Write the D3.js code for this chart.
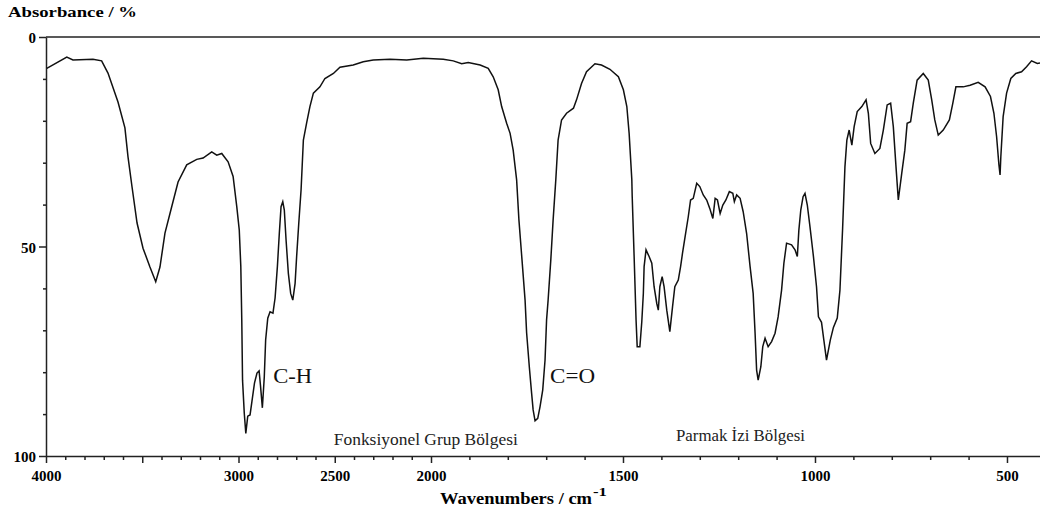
<!DOCTYPE html>
<html>
<head>
<meta charset="utf-8">
<script src="https://cdn.jsdelivr.net/npm/d3@7/dist/d3.min.js"></script>
<style>
  html, body { margin: 0; padding: 0; background: #fff; }
  svg { display: block; }
  text { font-family: "Liberation Serif", "DejaVu Serif", serif; }
</style>
</head>
<body>
<script>
// ---- Data (wavenumber in cm^-1, absorbance in %) ----
const wavenumbers = [3996, 3892, 3860, 3756, 3711, 3678, 3626, 3590, 3574, 3553, 3527, 3496, 3460, 3430, 3408, 3382, 3347, 3314, 3269, 3217, 3184, 3139, 3113, 3087, 3054, 3028, 3009, 2996, 2988, 2983, 2979, 2970, 2962, 2952, 2940, 2930, 2917, 2904, 2893, 2886, 2876, 2866, 2859, 2848, 2836, 2821, 2810, 2798, 2788, 2779, 2770, 2762, 2753, 2741, 2729, 2718, 2706, 2698, 2687, 2675, 2663, 2646, 2629, 2611, 2577, 2551, 2507, 2473, 2404, 2352, 2300, 2213, 2126, 2040, 1968, 1942, 1920, 1903, 1872, 1851, 1838, 1825, 1816, 1803, 1794, 1786, 1777, 1771, 1763, 1755, 1751, 1744, 1738, 1734, 1729, 1722, 1716, 1709, 1703, 1699, 1695, 1688, 1682, 1675, 1669, 1660, 1647, 1629, 1621, 1608, 1595, 1573, 1556, 1534, 1512, 1499, 1490, 1484, 1477, 1476, 1471, 1466, 1463, 1456, 1451, 1447, 1445, 1440, 1432, 1425, 1419, 1412, 1408, 1404, 1398, 1393, 1386, 1378, 1371, 1365, 1356, 1350, 1345, 1337, 1330, 1324, 1317, 1308, 1300, 1291, 1282, 1274, 1266, 1260, 1254, 1247, 1240, 1232, 1223, 1214, 1210, 1204, 1195, 1187, 1178, 1169, 1161, 1156, 1152, 1148, 1141, 1136, 1130, 1122, 1113, 1104, 1096, 1087, 1081, 1074, 1061, 1052, 1046, 1042, 1037, 1031, 1026, 1020, 1013, 1004, 996, 991, 983, 977, 970, 960, 952, 942, 935, 928, 922, 917, 911, 904, 898, 890, 878, 867, 861, 855, 844, 831, 822, 812, 803, 796, 789, 783, 774, 766, 760, 751, 744, 734, 718, 705, 696, 688, 679, 666, 650, 641, 633, 614, 596, 575, 557, 543, 534, 527, 521, 518, 516, 510, 501, 490, 477, 462, 449, 436, 421, 414];
const absorbance = [7.5, 4.8, 5.5, 5.3, 5.7, 8.6, 15.5, 21.7, 28.6, 35.8, 44.4, 50.4, 54.9, 58.4, 54.9, 46.8, 40.5, 34.6, 30.5, 29.2, 28.9, 27.4, 28.2, 27.8, 29.8, 33.3, 40.5, 46.1, 54.8, 67.5, 81.9, 89.8, 94.6, 90.5, 90.2, 86.9, 82.6, 80.2, 79.7, 83.1, 88.5, 81.1, 72.3, 67.1, 65.6, 65.9, 62.3, 54.8, 46.9, 40.5, 39.3, 41.3, 48.4, 56.4, 61.2, 62.8, 58.8, 52.4, 44.5, 36.5, 24.6, 20.5, 16.6, 13.4, 11.9, 9.9, 8.7, 7.2, 6.7, 5.9, 5.5, 5.3, 5.5, 5.1, 5.3, 5.7, 6.4, 6.1, 6.7, 7.5, 9.5, 12.6, 16.6, 20.6, 23.0, 27.0, 34.1, 43.7, 53.2, 62.8, 70.6, 78.7, 85.0, 89.0, 91.6, 91.0, 88.2, 84.2, 77.1, 67.5, 62.8, 53.2, 43.7, 34.1, 24.6, 19.8, 18.2, 17.0, 15.0, 11.1, 8.3, 6.4, 6.7, 7.7, 9.5, 12.6, 16.6, 23.0, 34.1, 38.1, 52.4, 67.5, 73.9, 73.9, 67.9, 61.2, 54.8, 50.8, 52.4, 54.0, 59.6, 63.6, 65.2, 59.6, 57.2, 59.6, 65.2, 70.3, 64.4, 59.6, 58.0, 54.8, 51.6, 46.9, 42.9, 38.9, 38.5, 34.9, 35.7, 37.7, 38.9, 40.9, 43.3, 38.5, 38.9, 42.1, 40.1, 38.9, 36.9, 37.3, 39.3, 37.7, 38.5, 41.7, 46.9, 54.8, 61.2, 70.7, 79.5, 81.9, 78.7, 73.9, 71.9, 73.9, 72.7, 70.7, 66.8, 60.4, 54.0, 49.2, 49.6, 50.8, 52.4, 46.1, 41.3, 38.1, 37.3, 40.1, 45.3, 52.4, 59.6, 66.8, 68.1, 72.3, 77.1, 72.3, 69.3, 67.1, 60.4, 45.6, 31.0, 24.6, 22.2, 25.8, 21.4, 17.8, 16.6, 15.0, 18.2, 25.4, 27.8, 26.6, 22.2, 16.2, 15.8, 21.4, 31.0, 38.9, 32.5, 27.0, 20.6, 20.2, 15.8, 10.3, 8.7, 10.3, 15.0, 19.8, 23.4, 22.2, 19.8, 15.8, 11.9, 11.9, 11.5, 10.8, 11.9, 14.2, 18.2, 23.8, 30.5, 32.9, 28.6, 19.0, 13.4, 9.9, 8.7, 8.3, 7.1, 5.7, 6.3, 6.2];

const xMajorTicks = [4000, 3500, 3000, 2500, 2000, 1500, 1000, 500];
const xTickLabels = [4000, 3000, 2500, 2000, 1500, 1000, 500];
const yMajorTicks = [0, 50, 100];
const annotations = [
  { text: "C-H", wn: 2820, a: 82.5 },
  { text: "C=O", wn: 1690, a: 82.5 }
];
const regionLabels = [
  { text: "Fonksiyonel Grup Bölgesi", wn: 2505, a: 97.3 },
  { text: "Parmak İzi Bölgesi", wn: 1362, a: 96.4 }
];

// ---- Layout ----
const W = 1040, H = 510;
const x = d3.scaleLinear().domain([4000, 2000, 414]).range([46, 431, 1040]);
const y = d3.scaleLinear().domain([0, 100]).range([37, 456]);

const svg = d3.select("body").append("svg").attr("width", W).attr("height", H);
const axisColor = "#222";

// minor ticks
const xMinor = d3.range(4000, 400, -100).filter(v => !xMajorTicks.includes(v));
const yMinor = d3.range(0, 101, 10).filter(v => !yMajorTicks.includes(v));

const gxMinor = svg.append("g").attr("transform", `translate(0,${y(100)})`)
  .call(d3.axisBottom(x).tickValues(xMinor).tickSize(4).tickSizeOuter(0).tickFormat(""));
gxMinor.select(".domain").remove();

const gx = svg.append("g").attr("transform", `translate(0,${y(100)})`)
  .call(d3.axisBottom(x).tickValues(xMajorTicks).tickSize(7).tickSizeOuter(0).tickPadding(7)
    .tickFormat(d => xTickLabels.includes(d) ? d : ""));

const gyMinor = svg.append("g").attr("transform", `translate(${x(4000)},0)`)
  .call(d3.axisLeft(y).tickValues(yMinor).tickSize(3).tickSizeOuter(0).tickFormat(""));
gyMinor.select(".domain").remove();

const gy = svg.append("g").attr("transform", `translate(${x(4000)},0)`)
  .call(d3.axisLeft(y).tickValues(yMajorTicks).tickSize(7).tickSizeOuter(0).tickPadding(3));

svg.selectAll(".domain, .tick line").attr("stroke", axisColor).attr("stroke-width", 1.5);
svg.selectAll(".tick text")
  .attr("font-family", "'Liberation Serif', serif")
  .attr("font-weight", "bold").attr("font-size", 15).attr("fill", "#000");
gy.selectAll(".tick text").attr("dy", "0.38em");

// top frame line
svg.append("line")
  .attr("x1", x(4000)).attr("x2", W).attr("y1", y(0)).attr("y2", y(0))
  .attr("stroke", axisColor).attr("stroke-width", 1.5);

// spectrum
const pts = wavenumbers.map((w, i) => [w, absorbance[i]]);
const line = d3.line().x(d => x(d[0])).y(d => y(d[1]));
svg.append("path").datum(pts)
  .attr("d", line)
  .attr("fill", "none").attr("stroke", "#111").attr("stroke-width", 1.5)
  .attr("stroke-linejoin", "miter");

// titles
svg.append("text").attr("x", 8).attr("y", 17)
  .attr("font-weight", "bold").attr("font-size", 15)
  .attr("textLength", 129).attr("lengthAdjust", "spacingAndGlyphs")
  .text("Absorbance / %");

svg.append("text").attr("x", 440).attr("y", 504)
  .attr("font-weight", "bold").attr("font-size", 16)
  .attr("textLength", 152).attr("lengthAdjust", "spacingAndGlyphs")
  .text("Wavenumbers / cm");
svg.append("text").attr("x", 593).attr("y", 496)
  .attr("font-weight", "bold").attr("font-size", 12)
  .attr("textLength", 14).attr("lengthAdjust", "spacingAndGlyphs")
  .text("-1");

// annotations
const annLen = { "C-H": 39, "C=O": 45 };
svg.selectAll("text.ann").data(annotations).enter().append("text")
  .attr("class", "ann")
  .attr("x", d => x(d.wn)).attr("y", d => y(d.a))
  .attr("font-size", 21).attr("fill", "#111")
  .attr("textLength", d => annLen[d.text]).attr("lengthAdjust", "spacingAndGlyphs")
  .text(d => d.text);

const regLen = { "Fonksiyonel Grup Bölgesi": 184, "Parmak İzi Bölgesi": 129 };
svg.selectAll("text.region").data(regionLabels).enter().append("text")
  .attr("class", "region")
  .attr("x", d => x(d.wn)).attr("y", d => y(d.a))
  .attr("font-size", 17).attr("fill", "#222")
  .attr("textLength", d => regLen[d.text]).attr("lengthAdjust", "spacingAndGlyphs")
  .text(d => d.text);
</script>
</body>
</html>
